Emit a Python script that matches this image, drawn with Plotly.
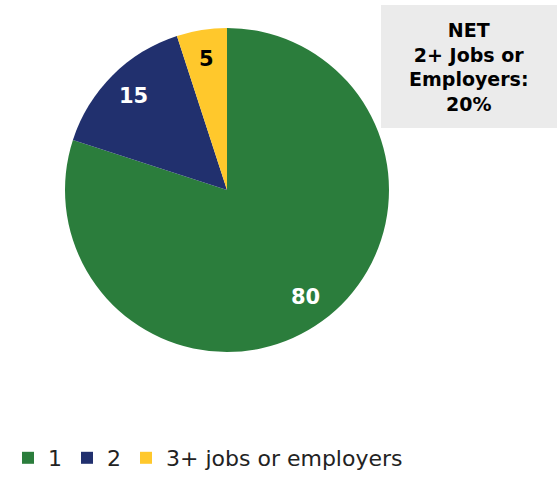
import math
import plotly.graph_objects as go

# Number of jobs or employers held
categories = ["1", "2", "3+ jobs or employers"]
values = [80, 15, 5]
colors = ["#2B7D3C", "#21306E", "#FFC82C"]
label_colors = ["#FFFFFF", "#FFFFFF", "#000000"]
net_text = "<b>NET<br>2+ Jobs or<br>Employers:<br>20%</b>"

W, H = 559, 479
FONT = "DejaVu Sans, sans-serif"

# Pie placement in pixels
CX, CY, R = 227, 190, 162
LABEL_R = 0.82

fig = go.Figure(
    go.Pie(
        labels=categories,
        values=values,
        sort=False,
        direction="clockwise",
        rotation=0,
        marker=dict(colors=colors, line=dict(width=0)),
        textinfo="none",
        hoverinfo="label+value",
        domain=dict(x=[(CX - R) / W, (CX + R) / W],
                    y=[1 - (CY + R) / H, 1 - (CY - R) / H]),
    )
)

# Value labels along each slice's mid-angle (clockwise from 12 o'clock)
total = sum(values)
cum = 0
for v, c in zip(values, label_colors):
    mid = (cum + v / 2) / total * 2 * math.pi
    cum += v
    px = CX + LABEL_R * R * math.sin(mid)
    py = CY - LABEL_R * R * math.cos(mid)
    fig.add_annotation(
        xref="paper", yref="paper", x=px / W, y=1 - py / H,
        text=f"<b>{v}</b>", showarrow=False,
        font=dict(size=21, color=c, family=FONT),
        xanchor="center", yanchor="middle",
    )

# Grey callout with the net share
fig.add_shape(
    type="rect", xref="paper", yref="paper",
    x0=381 / W, x1=557 / W, y0=1 - 128 / H, y1=1 - 5 / H,
    fillcolor="#EBEBEB", line=dict(width=0), layer="below",
)
fig.add_annotation(
    xref="paper", yref="paper",
    x=469 / W, y=1 - 67 / H,
    text=net_text, showarrow=False,
    font=dict(size=19, color="#000000", family=FONT),
    align="center", xanchor="center", yanchor="middle",
)

fig.update_layout(
    width=W, height=H,
    margin=dict(l=0, r=0, t=0, b=0),
    paper_bgcolor="white",
    plot_bgcolor="white",
    showlegend=True,
    legend=dict(
        orientation="h",
        x=8 / W, y=0,
        xanchor="left", yanchor="bottom",
        font=dict(size=22, color="#222222", family=FONT),
        itemwidth=30,
    ),
)

fig.write_html("out.html")
